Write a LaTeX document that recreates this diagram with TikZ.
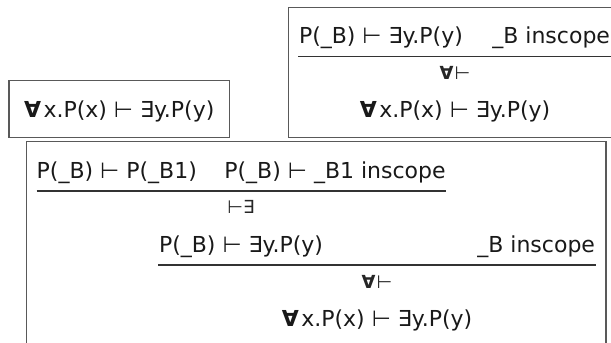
\documentclass[tikz,border=0pt]{standalone}
\usepackage{fontspec}
\setmainfont{DejaVu Sans}
\newcommand{\fa}{{\bfseries ∀}\kern2.5pt}
\newcommand{\fal}{{\bfseries ∀}\kern1pt}
\begin{document}
\begin{tikzpicture}[x=1pt,y=-1pt,
  txt/.style={inner sep=0pt, outer sep=0pt, font=\fontsize{22}{26}\selectfont, text=black!90},
  lbl/.style={inner sep=0pt, outer sep=0pt, font=\fontsize{18}{21}\selectfont, text=black!85},
  frame/.style={draw=black!65, line width=1.1pt},
  rulel/.style={draw=black!80, line width=1.4pt}]
\useasboundingbox (0,0) rectangle (611,343);
\clip (0,0) rectangle (611,343);

% top-right box
\draw[frame] (288.3,7.3) rectangle (625,137.3);
\node[txt, anchor=base west] (t1) at (299,43.5) {P(\_B) ⊢ ∃y.P(y)};
\node[txt, anchor=base east] (t2) at (610,43.5) {\_B inscope};
\draw[rulel] (298.3,56.7) -- (612,56.7);
\node[lbl, anchor=base] (tl) at (455,79.5) {\fal⊢};
\node[txt, anchor=base] (tc) at (455,117.5) {\fa x.P(x) ⊢ ∃y.P(y)};

% left box
\draw[frame] (9,80.7) rectangle (229.3,137.3);
\node[txt, anchor=base] (l1) at (119.2,117) {\fa x.P(x) ⊢ ∃y.P(y)};

% bottom box
\draw[frame] (26.7,141.7) rectangle (606,360);
\node[txt, anchor=base west] (b1) at (36.7,178) {P(\_B) ⊢ P(\_B1)};
\node[txt, anchor=base east] (b2) at (445.7,178) {P(\_B) ⊢ \_B1 inscope};
\draw[rulel] (36.7,191) -- (445.7,191);
\node[lbl, anchor=base] (bl1) at (241,213) {⊢∃};
\node[txt, anchor=base] (b3) at (241,252) {P(\_B) ⊢ ∃y.P(y)};
\node[txt, anchor=base east] (b4) at (595,252) {\_B inscope};
\draw[rulel] (158.3,265) -- (596,265);
\node[lbl, anchor=base] (bl2) at (377,288) {\fal⊢};
\node[txt, anchor=base] (bc) at (377,326) {\fa x.P(x) ⊢ ∃y.P(y)};
\end{tikzpicture}
\end{document}
